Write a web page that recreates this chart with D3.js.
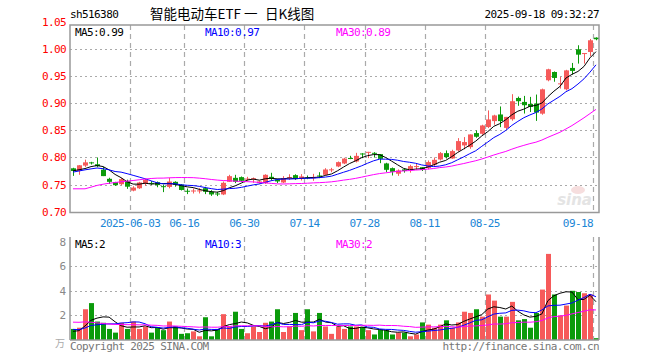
<!DOCTYPE html>
<html><head><meta charset="utf-8">
<script src="https://cdn.jsdelivr.net/npm/d3@7"></script>
<style>body{margin:0;background:#fff}svg{display:block}</style>
</head><body><svg id="c" width="660" height="360"></svg>
<script>
// ---------- data ----------
const dates = [
"05-19","05-20","05-21","05-22","05-23","05-26","05-27","05-28","05-29","05-30",
"06-03","06-04","06-05","06-06","06-09","06-10","06-11","06-12","06-13","06-16",
"06-17","06-18","06-19","06-20","06-23","06-24","06-25","06-26","06-27","06-30",
"07-01","07-02","07-03","07-04","07-07","07-08","07-09","07-10","07-11","07-14",
"07-15","07-16","07-17","07-18","07-21","07-22","07-23","07-24","07-25","07-28",
"07-29","07-30","07-31","08-01","08-04","08-05","08-06","08-07","08-08","08-11",
"08-12","08-13","08-14","08-15","08-18","08-19","08-20","08-21","08-22","08-25",
"08-26","08-27","08-28","08-29","09-01","09-02","09-03","09-04","09-05","09-08",
"09-09","09-10","09-11","09-12","09-15","09-16","09-17","09-18"];
const open = [.780,.775,.785,.791,.7875,.7775,.7606,.7544,.7506,.756,
.7388,.7431,.7513,.753,.7544,.747,.7456,.755,.750,.7385,
.7384,.7384,.7433,.7366,.7335,.7317,.7551,.7624,.7637,.7605,
.760,.7526,.7526,.7643,.7594,.7538,.763,.7674,.7606,.763,
.763,.7667,.768,.7775,.7834,.7889,.7991,.7926,.8074,.8098,
.8086,.8062,.789,.7803,.770,.778,.778,.7838,.782,.7804,
.7865,.7963,.808,.7982,.813,.8223,.8192,.8451,.8438,.8562,
.8672,.8795,.8547,.8707,.910,.9027,.899,.8997,.881,.9427,
.958,.9366,.926,.9655,1.000,.9926,.995,1.0215];
const high = [.781,.786,.796,.792,.800,.7825,.7625,.755,.762,.759,
.7469,.755,.7606,.7563,.7556,.750,.7625,.756,.751,.7427,
.7427,.7433,.7458,.7395,.7366,.7556,.768,.768,.7649,.7643,
.763,.757,.769,.7717,.7606,.7655,.769,.769,.7692,.7667,
.7698,.7728,.7802,.7808,.7926,.7994,.8031,.8086,.808,.8104,
.8098,.8062,.7902,.7815,.778,.779,.7865,.788,.782,.7945,
.800,.810,.813,.8143,.8358,.8377,.8426,.850,.8605,.887,
.879,.8943,.875,.917,.9125,.9138,.912,.9163,.9273,.964,
.959,.949,.962,.9747,1.0074,.993,1.019,1.022];
const low = [.766,.768,.7825,.787,.782,.7656,.751,.7475,.7488,.742,
.7375,.7419,.7481,.7494,.745,.736,.743,.746,.739,.7323,
.7335,.7335,.7323,.729,.7286,.7305,.7551,.7526,.7551,.7557,
.7532,.7513,.7513,.757,.7526,.7526,.7585,.7587,.7575,.7599,
.7569,.7618,.7667,.7728,.7821,.7877,.7969,.7908,.7988,.7988,
.7999,.7895,.773,.7667,.766,.772,.772,.7778,.775,.778,
.7834,.7945,.7982,.7976,.8112,.815,.8161,.8364,.842,.8543,
.8605,.8561,.852,.868,.8955,.8812,.884,.8676,.879,.9408,
.940,.9273,.924,.9532,.9735,.9735,.9871,1.0166];
const close = [.775,.7856,.791,.790,.784,.7656,.755,.7488,.760,.746,
.7444,.7538,.7588,.7515,.749,.746,.7556,.7494,.740,.7378,
.739,.7392,.7366,.7317,.733,.7532,.7655,.7551,.7569,.761,
.7618,.7557,.768,.7612,.7557,.7618,.7637,.7612,.765,.762,
.7637,.7661,.7778,.7781,.7914,.798,.7985,.803,.807,.8104,
.808,.7975,.7772,.7735,.776,.775,.784,.7841,.777,.7915,
.7957,.808,.8007,.8118,.8303,.8285,.8426,.8383,.8592,.8703,
.8777,.8672,.875,.904,.904,.8966,.8935,.883,.926,.963,
.947,.937,.961,.960,.990,.993,1.0166,1.0185];
const volume = [0.9,1.0,2.5,3.0,1.5,1.4,0.9,0.6,1.4,0.9,
1.5,0.9,1.1,0.6,1.0,0.8,1.5,1.1,0.5,0.55,
0.7,0.3,1.85,0.3,0.9,2.1,1.1,2.3,0.9,0.55,
1.1,0.65,1.4,1.5,2.5,0.65,1.1,2.2,0.8,2.5,
0.7,2.2,1.1,0.5,1.1,0.9,1.1,1.1,1.05,0.8,
0.45,0.85,0.8,0.45,0.6,0.6,0.3,0.45,1.43,1.25,
1.0,1.25,1.6,1.0,1.43,2.3,2.2,2.5,1.9,3.7,
3.2,1.9,1.9,3.1,1.6,1.7,1.0,2.2,4.1,7.0,
3.7,2.0,2.8,4.0,3.9,3.8,3.7,0.15];
// estimated closes / volumes of the 29 sessions before the window (feed the moving averages)
const prevClose = [.786,.791,.698,.688,.698,.703,.708,.716,.713,.710,.713,.716,.723,.730,.743,
.740,.738,.736,.740,.744,.765,.770,.772,.768,.778,.776,.780,.772,.774];
const prevVolume = [1.3,1.5,3.8,3.2,2.8,2.3,1.6,1.5,1.3,1.6,1.2,1.1,1.4,1.5,2.3,
1.4,1.2,1.3,1.2,1.4,1.2,1.1,1.0,0.9,0.9,0.7,0.6,0.7,0.6];
const priceTicks = [0.70,0.75,0.80,0.85,0.90,0.95,1.00,1.05];
const volTicks = [2,4,6,8];
const dateTicks = ["06-03","06-16","06-30","07-14","07-28","08-11","08-25","09-18"];
const dateTickLabels = ["2025-06-03","06-16","06-30","07-14","07-28","08-11","08-25","09-18"];
const maPeriods = [5,10,30];
const maColors = ["#000000","#0000ff","#ff00ff"];
const priceLegend = ["MA5:0.99","MA10:0.97","MA30:0.89"];
const volLegend = ["MA5:2","MA10:3","MA30:2"];
const titleParts = ["智能电动车ETF","一","日K线图"];

// ---------- layout ----------
const L = 70, R = 599, PT = 25, PB = 212.5, VT = 237, VB = 340;
const RED = "#f65a5a", GREEN = "#0b9b0b", GRID = "#aaaaaa";
const mono = "'DejaVu Sans Mono', monospace";
const svg = d3.select("#c");
svg.append("rect").attr("width",660).attr("height",360).attr("fill","#fff");

const idx = d3.range(dates.length);
const x = d3.scaleBand().domain(idx).range([L, R]).paddingInner(0.3).paddingOuter(0.15);
const step = x.step();
const cx = i => x(i) + x.bandwidth()/2;
const gx = i => L + i*step;   // grid position (slot left edge)
const y = d3.scaleLinear().domain([0.70,1.05]).range([211.6, 22.2]);
const yv = d3.scaleLinear().domain([0,8]).range([VB, 241.6]);

function ma(arr, prev, n){
  const all = prev.concat(arr), off = prev.length;
  return arr.map((_,i)=> d3.mean(all.slice(off+i-n+1, off+i+1)));
}

svg.append("clipPath").attr("id","pc").append("rect").attr("x",L).attr("y",PT).attr("width",R-L).attr("height",PB-PT);
svg.append("clipPath").attr("id","vc").append("rect").attr("x",L).attr("y",VT).attr("width",R-L).attr("height",VB-VT);

// ---------- header ----------
svg.append("text").attr("x",L).attr("y",18).attr("font-family",mono).attr("font-size",11).attr("letter-spacing",-0.6).attr("fill","#000").text("sh516380");
titleParts.forEach((t,k)=> svg.append("text").attr("x",[150,244,265][k]).attr("y",19)
  .attr("font-family","'Noto Sans CJK SC', sans-serif").attr("font-size",13.5).attr("fill","#000").text(t));
svg.append("text").attr("x",R).attr("y",18).attr("text-anchor","end").attr("font-family",mono).attr("font-size",11).attr("letter-spacing",-0.6).attr("fill","#000").text("2025-09-18 09:32:27");

// ---------- price panel ----------
const gp = svg.append("g");
gp.selectAll("line.hg").data(priceTicks.filter(t=>t>0.70 && t<1.05)).join("line")
  .attr("x1",L).attr("x2",R).attr("y1",d=>Math.round(y(d))+0.5).attr("y2",d=>Math.round(y(d))+0.5)
  .attr("stroke",GRID).attr("stroke-dasharray","2,3");
const tickIdx = dateTicks.map(d=>dates.indexOf(d));
gp.selectAll("line.vg").data(tickIdx).join("line")
  .attr("x1",d=>Math.round(gx(d))+0.5).attr("x2",d=>Math.round(gx(d))+0.5).attr("y1",PT).attr("y2",PB)
  .attr("stroke",GRID).attr("stroke-width",1.2).attr("stroke-dasharray","5,4");
gp.selectAll("text.yl").data(priceTicks).join("text")
  .attr("x",66).attr("y",d=>y(d)+4).attr("text-anchor","end").attr("font-family",mono).attr("font-size",11).attr("letter-spacing",-0.6)
  .attr("fill","#ff0000").text(d=>d.toFixed(2));
gp.selectAll("text.xl").data(tickIdx).join("text")
  .attr("x",(d,i)=> gx(d)).attr("y",227).attr("text-anchor",(d,i)=> i===tickIdx.length-1?"end":"middle")
  .attr("font-family",mono).attr("font-size",11).attr("letter-spacing",-0.6).attr("fill","#1a86d6")
  .text((d,i)=>dateTickLabels[i]);

// watermark
gp.append("text").attr("x",592).attr("y",205).attr("text-anchor","end").attr("font-family","'DejaVu Sans', sans-serif")
  .attr("font-style","italic").attr("font-weight","bold").attr("font-size",15).attr("fill","#e4e4e4").text("sina");
gp.append("ellipse").attr("cx",578).attr("cy",190).attr("rx",7).attr("ry",4).attr("fill","#f6dede");

const cg = gp.append("g").attr("clip-path","url(#pc)");
const col = i => close[i] >= open[i] ? RED : GREEN;
cg.selectAll("line.wick").data(idx).join("line")
  .attr("x1",i=>Math.round(cx(i))+0.5).attr("x2",i=>Math.round(cx(i))+0.5)
  .attr("y1",i=>y(high[i])).attr("y2",i=>y(low[i])).attr("stroke",col).attr("stroke-width",1);
cg.selectAll("rect.body").data(idx).join("rect")
  .attr("x",i=>Math.round(cx(i))-2).attr("width",5)
  .attr("y",i=>y(Math.max(open[i],close[i])))
  .attr("height",i=>Math.max(1,Math.abs(y(open[i])-y(close[i]))))
  .attr("fill",col);
maPeriods.forEach((n,k)=>{
  const m = ma(close, prevClose, n);
  cg.append("path").datum(m).attr("fill","none").attr("stroke",maColors[k]).attr("stroke-width",1)
    .attr("d", d3.line().x((d,i)=>cx(i)).y(d=>y(d)));
});
gp.append("rect").attr("x",L).attr("y",PT).attr("width",R-L).attr("height",PB-PT).attr("fill","none").attr("stroke","#999").attr("stroke-width",1.5);
priceLegend.forEach((t,k)=> gp.append("text").attr("x",[75,205,336][k]).attr("y",36).attr("font-family",mono).attr("font-size",11).attr("letter-spacing",-0.6).attr("fill",maColors[k]).text(t));

// ---------- volume panel ----------
const gv = svg.append("g");
gv.selectAll("line.hg").data(volTicks.filter(t=>t<8)).join("line")
  .attr("x1",L).attr("x2",R).attr("y1",d=>Math.round(yv(d))+0.5).attr("y2",d=>Math.round(yv(d))+0.5)
  .attr("stroke",GRID).attr("stroke-dasharray","2,3");
gv.selectAll("line.vg").data(tickIdx).join("line")
  .attr("x1",d=>Math.round(gx(d))+0.5).attr("x2",d=>Math.round(gx(d))+0.5).attr("y1",VT).attr("y2",VB)
  .attr("stroke",GRID).attr("stroke-width",1.2).attr("stroke-dasharray","5,4");
gv.selectAll("text.yl").data(volTicks).join("text")
  .attr("x",66).attr("y",d=>yv(d)+4).attr("text-anchor","end").attr("font-family",mono).attr("font-size",11)
  .attr("fill","#888").text(d=>d);
gv.append("text").attr("x",55).attr("y",347).attr("font-family","'Noto Sans CJK SC', sans-serif").attr("font-size",10).attr("fill","#aaa").text("万");
const vg = gv.append("g").attr("clip-path","url(#vc)");
vg.selectAll("rect.vb").data(idx).join("rect")
  .attr("x",i=>Math.round(cx(i))-2).attr("width",5)
  .attr("y",i=>yv(volume[i])).attr("height",i=>yv(0)-yv(volume[i])).attr("fill",col);
maPeriods.forEach((n,k)=>{
  const m = ma(volume, prevVolume, n);
  vg.append("path").datum(m).attr("fill","none").attr("stroke",maColors[k]).attr("stroke-width",1)
    .attr("d", d3.line().x((d,i)=>cx(i)).y(d=>yv(d)));
});
gv.append("line").attr("x1",L).attr("x2",L).attr("y1",VT).attr("y2",VB).attr("stroke","#999").attr("stroke-width",1.5);
gv.append("line").attr("x1",R).attr("x2",R).attr("y1",VT).attr("y2",VB).attr("stroke","#999").attr("stroke-width",1.5);
gv.append("line").attr("x1",L).attr("x2",R).attr("y1",VB).attr("y2",VB).attr("stroke","#999").attr("stroke-width",1.5);
volLegend.forEach((t,k)=> gv.append("text").attr("x",[75,205,336][k]).attr("y",248).attr("font-family",mono).attr("font-size",11).attr("letter-spacing",-0.6).attr("fill",maColors[k]).text(t));

// footer
svg.append("text").attr("x",L).attr("y",350).attr("font-family",mono).attr("font-size",11).attr("letter-spacing",-0.6).attr("fill","#777").text("Copyright 2025 SINA.COM");
svg.append("text").attr("x",R).attr("y",350).attr("text-anchor","end").attr("font-family",mono).attr("font-size",11).attr("letter-spacing",-0.6).attr("fill","#777").text("http://finance.sina.com.cn");
</script></body></html>
